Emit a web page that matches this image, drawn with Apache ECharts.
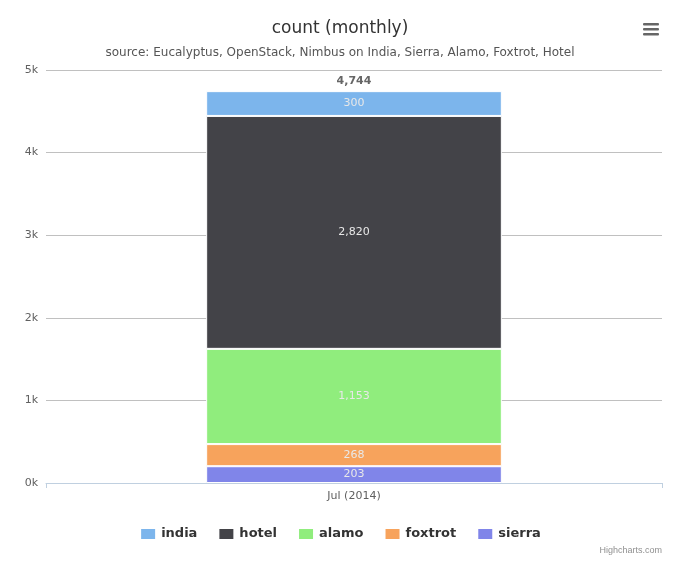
<!DOCTYPE html>
<html>
<head>
<meta charset="UTF-8">
<script src="https://cdn.jsdelivr.net/npm/echarts@6/dist/echarts.min.js"></script>
<style>body{margin:0}#c{width:680px;height:566px}</style>
</head>
<body>
<div id="c"></div>
<script>
const categories = ['Jul (2014)'];
const sierra = [203];
const foxtrot = [268];
const alamo = [1153];
const hotel = [2820];
const india = [300];
const yTicks = ['0k', '1k', '2k', '3k', '4k', '5k'];

const totals = categories.map((c, i) => sierra[i] + foxtrot[i] + alamo[i] + hotel[i] + india[i]);
const fmt = v => v.toLocaleString('en-US');

function part(name, data, color) {
    return {
        name: name, type: 'bar', stack: 'a', data: data, barWidth: '48%',
        itemStyle: { color: color, borderColor: '#fff', borderWidth: 1 },
        label: { show: true, position: 'inside', color: '#e8e8e8', fontSize: 11,
                 formatter: p => fmt(p.value) }
    };
}

const chart = echarts.init(document.getElementById('c'));
chart.setOption({
    textStyle: { fontFamily: 'DejaVu Sans' },
    title: {
        text: 'count (monthly)', left: 'center', top: 15,
        textStyle: { fontSize: 17, fontWeight: 'normal', color: '#333' },
        subtext: 'source: Eucalyptus, OpenStack, Nimbus on India, Sierra, Alamo, Foxtrot, Hotel',
        subtextStyle: { fontSize: 12, color: '#555' }, itemGap: 10
    },
    graphic: [
        { type: 'text', right: 18, bottom: 11, style: { text: 'Highcharts.com', fontSize: 9, fill: '#909090' } },
        { type: 'group', left: 643, top: 23, children: [0, 5, 10].map(y => ({
            type: 'rect', shape: { x: 0, y: y, width: 16, height: 2.5, r: 1 }, style: { fill: '#666' } })) }
    ],
    legend: {
        data: ['india', 'hotel', 'alamo', 'foxtrot', 'sierra'],
        bottom: 20, itemWidth: 16, itemHeight: 12, itemGap: 20, icon: 'rect',
        textStyle: { fontSize: 13, fontWeight: 'bold', color: '#333' }
    },
    grid: { left: 46, right: 18, top: 70, bottom: 83 },
    xAxis: {
        type: 'category', data: categories,
        axisLine: { lineStyle: { color: '#c0d0e0' } },
        axisTick: { show: true, lineStyle: { color: '#c0d0e0' } },
        axisLabel: { color: '#606060', fontSize: 11 }
    },
    yAxis: {
        type: 'value', min: 0, max: 5000, interval: 1000,
        axisLabel: { color: '#606060', fontSize: 11, formatter: v => yTicks[v / 1000] },
        splitLine: { lineStyle: { color: '#c0c0c0' } }
    },
    series: [
        part('sierra', sierra, '#8085e9'),
        part('foxtrot', foxtrot, '#f7a35c'),
        part('alamo', alamo, '#90ed7d'),
        part('hotel', hotel, '#434348'),
        part('india', india, '#7cb5ec'),
        {
            name: 'total', type: 'bar', stack: 'a', data: totals.map(() => 0), barWidth: '48%',
            itemStyle: { color: 'transparent' },
            label: { show: true, position: 'top', color: '#666', fontSize: 11, fontWeight: 'bold',
                     formatter: p => fmt(totals[p.dataIndex]) }
        }
    ]
});
</script>
</body>
</html>
